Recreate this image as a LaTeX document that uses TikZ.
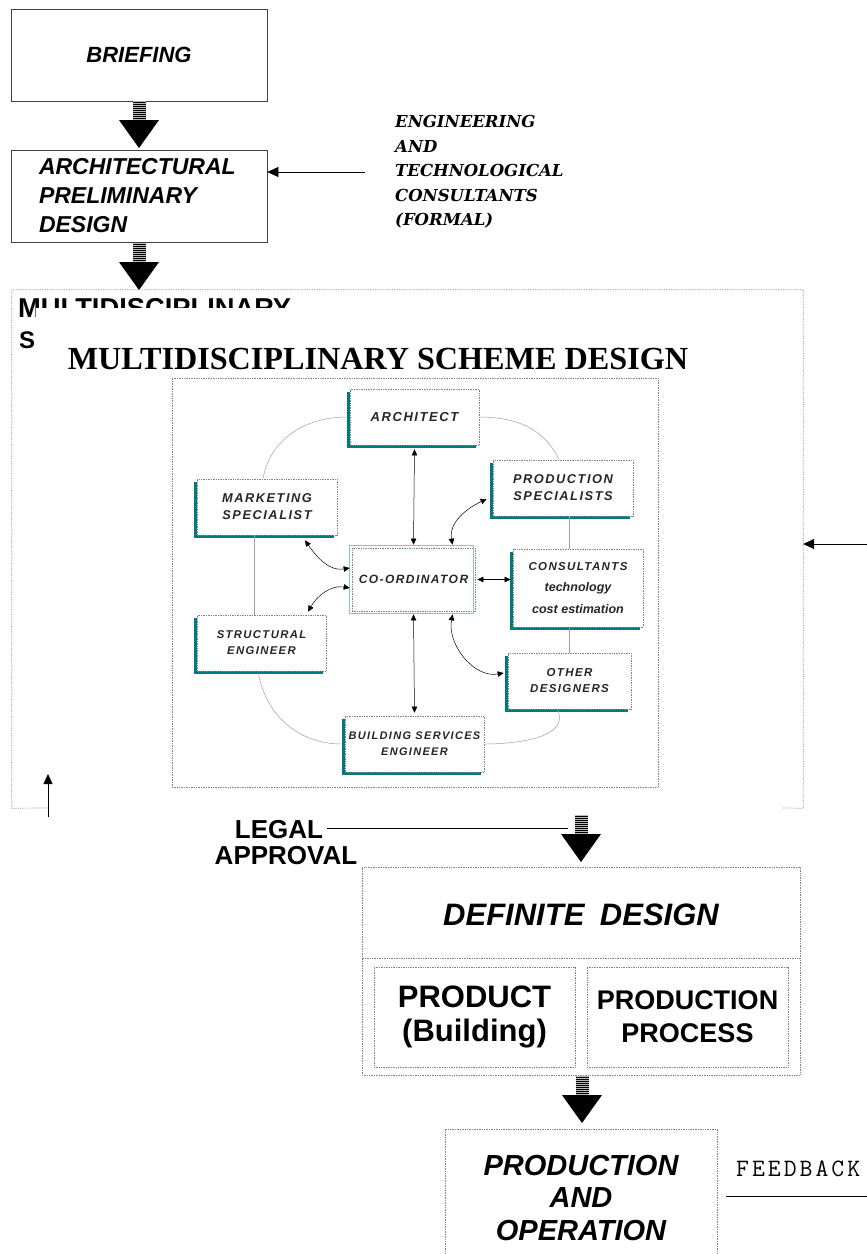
\documentclass[tikz,border=0pt]{standalone}
\usepackage{fontspec}
\setmainfont{Liberation Sans}
\newfontfamily\titlefont{Liberation Serif}
\newfontfamily\slabfont{DejaVu Serif}
\newfontfamily\fbmono{Latin Modern Mono}[LetterSpace=12]
\newfontfamily\teamfont{Liberation Sans}[LetterSpace=12]
\usetikzlibrary{arrows.meta,shadows}
\definecolor{tealsh}{RGB}{0,122,122}
\definecolor{dotgray}{RGB}{130,130,130}
\tikzset{
  flowbox/.style={draw=black!75, line width=0.7pt, minimum width=256pt, minimum height=92pt, inner sep=0pt},
  dotline/.style={draw=dotgray, densely dotted, line width=0.7pt},
  dotbox/.style={dotline, inner sep=0pt},
  teambox/.style={dotbox, fill=white, align=center, text=black!85,
    font=\teamfont\bfseries\itshape\fontsize{11.5}{16}\selectfont,
    drop shadow={shadow xshift=-3pt, shadow yshift=-3pt, fill=tealsh, opacity=1}},
  grayarc/.style={draw=gray!75, line width=0.5pt},
  biarr/.style={line width=0.5pt, {Triangle[length=6pt,width=5.5pt]}-{Triangle[length=6pt,width=5.5pt]}},
  thinarr/.style={line width=0.7pt, -{Triangle[length=11pt,width=10pt]}},
  bigdown/.pic={
    \fill[gray!55] (-6.5,0) rectangle (6.5,-19);
    \foreach \k in {0,...,9} \draw[line width=1pt] (-6.5,-1-2*\k) -- (6.5,-1-2*\k);
    \fill (-20,-19) -- (20,-19) -- (0,-47) -- cycle;
  }
}
\begin{document}
\begin{tikzpicture}[x=1pt,y=1pt]
\useasboundingbox[fill=white] (0,0) rectangle (867,-1254);

% ---- top flow ----
\node[flowbox, font=\bfseries\itshape\fontsize{22}{26}\selectfont] (brief) at (139,-55) {BRIEFING};
\pic at (139,-101) {bigdown};
\node[flowbox, text width=200pt, align=left, font=\bfseries\itshape\fontsize{23}{29}\selectfont] (prelim) at (139,-196) {ARCHITECTURAL\\PRELIMINARY\\DESIGN};
\node[anchor=west, align=left, inner sep=0pt, font=\slabfont\bfseries\itshape\fontsize{16.5}{24.5}\selectfont] (eng) at (395,-172) {ENGINEERING\\AND\\TECHNOLOGICAL\\CONSULTANTS\\(FORMAL)};
\draw[thinarr] ([xshift=-30pt]eng.west) -- (prelim.east |- eng.west);
\pic at (139,-243) {bigdown};

% ---- multidisciplinary frame ----
\node[minimum width=791pt, minimum height=518pt, inner sep=0pt] (multi) at (407.5,-549) {};
\draw[dotline] (48,-808) -- (multi.south west) -- (multi.north west) -- (multi.north east) -- (multi.south east) -- (782,-808);
\node[anchor=base west, inner sep=0pt, font=\bfseries\fontsize{27.3}{30}\selectfont] (mtop) at (18,-317) {MULTIDISCIPLINARY};
\fill[white] (36,-307.5) rectangle (305,-324);
\node[anchor=base west, inner sep=0pt, font=\bfseries\fontsize{24}{30}\selectfont] (mtops) at (19,-348) {S};
\node[inner sep=0pt, font=\titlefont\bfseries\fontsize{32.2}{36}\selectfont] (title) at (378,-359) {MULTIDISCIPLINARY SCHEME DESIGN};

\coordinate (rin) at (867,-544);
\draw[thinarr] (rin) -- (rin -| multi.east);
\coordinate (upa) at (48,-817);
\coordinate (upb) at (48,-774);
\draw[line width=0.8pt, -{Triangle[length=10pt,width=9pt]}] (upa) -- (upb);

% ---- team diagram ----
\node[dotbox, minimum width=486pt, minimum height=409pt] (team) at (415,-582.5) {};

\node[teambox, minimum width=129pt, minimum height=56pt, font=\teamfont\bfseries\itshape\fontsize{13}{16}\selectfont] (arch) at (414.5,-417) {ARCHITECT};
\node[teambox, minimum width=140pt, minimum height=56pt, font=\teamfont\bfseries\itshape\fontsize{12.8}{17}\selectfont] (prod) at (563,-488) {PRODUCTION\\SPECIALISTS};
\node[teambox, minimum width=140pt, minimum height=56pt, font=\teamfont\bfseries\itshape\fontsize{12.8}{17}\selectfont] (mkt) at (267,-507) {MARKETING\\SPECIALIST};
\node[teambox, minimum width=130pt, minimum height=78pt, font=\teamfont\bfseries\itshape\fontsize{11.5}{21.5}\selectfont] (cons) at (578,-588) {CONSULTANTS\\{\fontspec{Liberation Sans}\bfseries\itshape\fontsize{12.5}{21.5}\selectfont technology}\\{\fontspec{Liberation Sans}\bfseries\itshape\fontsize{12.5}{21.5}\selectfont cost estimation}};
\node[teambox, minimum width=129pt, minimum height=56pt, font=\teamfont\bfseries\itshape\fontsize{11.3}{16}\selectfont] (struct) at (261.5,-643) {STRUCTURAL\\ENGINEER};
\node[teambox, minimum width=123pt, minimum height=56pt] (other) at (569.5,-681) {OTHER\\DESIGNERS};
\node[teambox, minimum width=139pt, minimum height=56pt, font=\teamfont\bfseries\itshape\fontsize{11}{16}\selectfont] (build) at (414.5,-744) {BUILDING SERVICES\\ENGINEER};
\node[dotbox, fill=white, minimum width=123pt, minimum height=63pt, text=black!85, font=\teamfont\bfseries\itshape\fontsize{12}{16}\selectfont] (coord) at (413.5,-579.5) {CO-ORDINATOR};
\draw[cyan!45!gray!70, line width=0.5pt] ([shift={(-2,2)}]coord.north west) rectangle ([shift={(-2,-2)}]coord.south east);

% gray links
\draw[grayarc] ([xshift=-3pt]arch.west) to[out=180, in=80] ([xshift=-4pt]mkt.north);
\draw[grayarc] (arch.east) to[out=0, in=115] ([xshift=-4pt]prod.north);
\draw[grayarc] ([xshift=-13pt]mkt.south) -- ([xshift=-13pt]mkt.south |- struct.north);
\draw[grayarc] ([xshift=6pt]prod.south) -- ([xshift=6pt]prod.south |- cons.north);
\draw[grayarc] ([xshift=-9pt]cons.south) -- ([xshift=-9pt]cons.south |- other.north);
\draw[grayarc] ([xshift=-3pt,yshift=-2pt]struct.south) to[out=-80, in=180] ([xshift=-3pt]build.west);
\draw[grayarc] (build.east) to[out=0, in=-65] ([xshift=-12pt]other.south);

% black double arrows
\draw[biarr] ([yshift=-4pt]arch.south) -- ([yshift=3pt]coord.north);
\draw[biarr] ([yshift=-3pt]coord.south) -- ([yshift=3pt]build.north);
\draw[biarr] ([xshift=2pt]coord.east) -- ([xshift=-2pt]coord.east -| cons.west);
\draw[biarr] ([xshift=39pt,yshift=3pt]coord.north) to[out=100, in=205] ([xshift=-6pt,yshift=-11pt]prod.west);
\draw[biarr] ([xshift=-2pt,yshift=11.5pt]coord.west) to[out=190, in=-55] ([xshift=38pt,yshift=-5pt]mkt.south);
\draw[biarr] ([xshift=-2pt,yshift=-8.5pt]coord.west) to[out=170, in=60] ([xshift=46.5pt,yshift=3pt]struct.north);
\draw[biarr] ([xshift=39pt,yshift=-3pt]coord.south) to[out=-100, in=190] ([xshift=-4pt,yshift=8pt]other.west);

% ---- legal approval ----
\node[inner sep=0pt, font=\bfseries\fontsize{26}{28}\selectfont] (legal) at (279,-830) {LEGAL};
\node[inner sep=0pt, font=\bfseries\fontsize{26}{28}\selectfont] (approval) at (286,-856) {APPROVAL};
\coordinate (lgl) at (568,-828);
\draw[line width=0.8pt] ([xshift=4pt,yshift=2pt]legal.east) -- (lgl);
\pic at (581,-815) {bigdown};

% ---- definite design ----
\node[dotbox, minimum width=438pt, minimum height=208pt] (defin) at (581,-971) {};
\draw[dotline] (defin.west |- 0,-958) -- (defin.east |- 0,-958);
\node[inner sep=0pt, font=\bfseries\itshape\fontsize{31}{36}\selectfont] (deft) at (581,-915) {DEFINITE\hspace{0.5em}DESIGN};
\node[dotbox, minimum width=201pt, minimum height=100pt, align=center, font=\bfseries\fontsize{31}{34}\selectfont] (product) at (474.5,-1017) {PRODUCT\\(Building)};
\node[dotbox, minimum width=201pt, minimum height=100pt, align=center, font=\bfseries\fontsize{27}{33}\selectfont] (process) at (687.5,-1017) {PRODUCTION\\PROCESS};
\pic at (582,-1076) {bigdown};

% ---- production and operation ----
\node[dotbox, minimum width=272pt, minimum height=150pt] (prodop) at (581,-1204) {};
\node[inner sep=0pt, align=center, font=\bfseries\itshape\fontsize{29}{33}\selectfont] (prodoptxt) at (581,-1198) {PRODUCTION\\AND\\OPERATION};
\node[anchor=west, inner sep=0pt, font=\fbmono\fontsize{25}{28}\selectfont] (fb) at (736,-1169) {FEEDBACK};
\coordinate (fbl) at (726,-1196);
\draw[line width=0.7pt] (fbl) -- ++(145,0);
\end{tikzpicture}
\end{document}
